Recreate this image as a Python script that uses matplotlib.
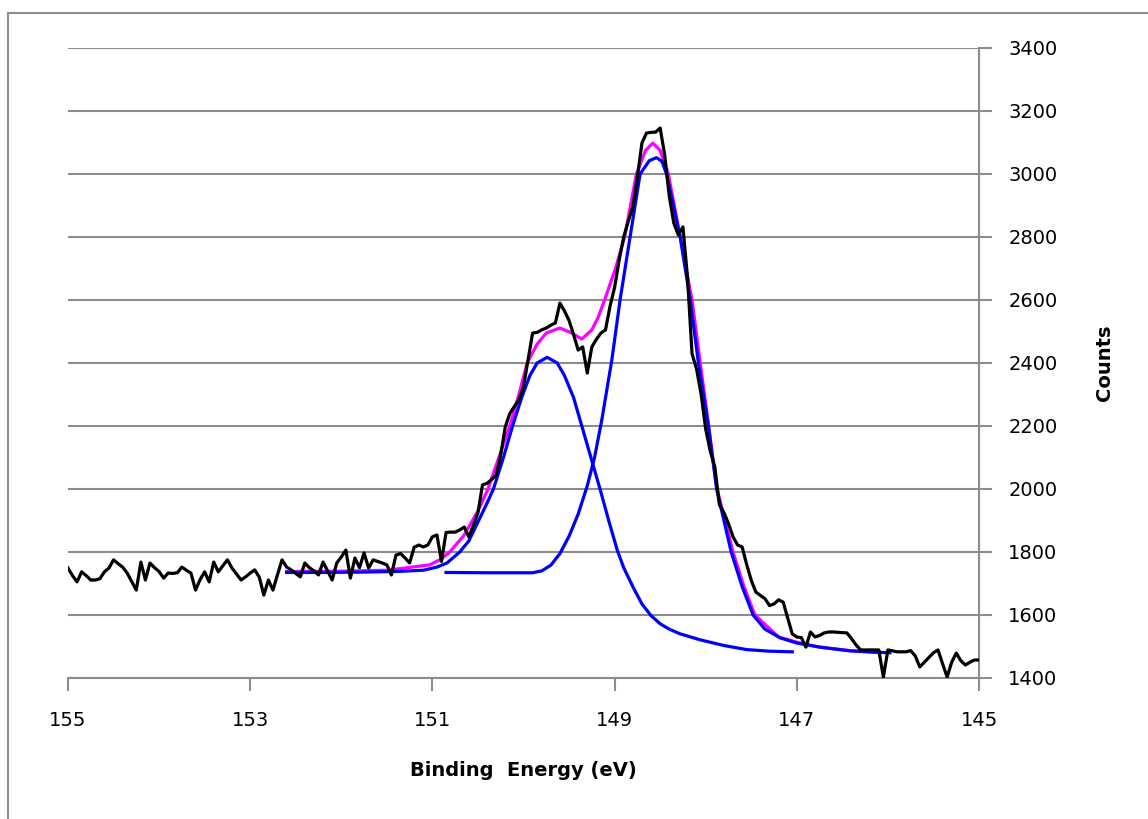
import numpy as np
import matplotlib
matplotlib.use('Agg')
import matplotlib.pyplot as plt
from matplotlib.patches import Rectangle

# measured spectrum, 155 -> 145 eV in 0.05 eV steps
energy = np.round(np.arange(155.0, 144.999, -0.05), 2)
counts = [
    1749, 1725, 1705, 1737, 1725, 1711, 1711, 1715, 1737, 1749,
    1775, 1763, 1752, 1733, 1706, 1679, 1768, 1711, 1765, 1750,
    1738, 1717, 1733, 1732, 1734, 1752, 1742, 1733, 1679, 1712,
    1737, 1705, 1768, 1737, 1756, 1775, 1749, 1730, 1711, 1721,
    1733, 1743, 1720, 1663, 1711, 1679, 1728, 1775, 1752, 1743,
    1732, 1721, 1765, 1750, 1740, 1727, 1768, 1740, 1711, 1765,
    1784, 1806, 1717, 1781, 1750, 1797, 1749, 1775, 1770, 1765,
    1759, 1727, 1790, 1795, 1781, 1765, 1815, 1822, 1816, 1822,
    1848, 1854, 1770, 1862, 1863, 1863, 1870, 1879, 1848, 1885,
    1924, 2013, 2018, 2030, 2044, 2108, 2197, 2240, 2262, 2283,
    2324, 2410, 2495, 2497, 2505, 2511, 2520, 2527, 2590, 2565,
    2535, 2490, 2441, 2451, 2368, 2451, 2475, 2495, 2505, 2580,
    2640, 2727, 2800, 2850, 2895, 2990, 3098, 3130, 3132, 3133,
    3146, 3060, 2930, 2844, 2806, 2832, 2673, 2430, 2380, 2300,
    2190, 2120, 2070, 1950, 1925, 1890, 1848, 1822, 1816, 1760,
    1710, 1673, 1662, 1652, 1630, 1635, 1648, 1641, 1590, 1540,
    1530, 1528, 1498, 1546, 1530, 1535, 1543, 1546, 1546, 1545,
    1544, 1543, 1525, 1505, 1489, 1489, 1489, 1489, 1489, 1403,
    1489, 1486, 1483, 1483, 1483, 1487, 1470, 1435, 1450, 1465,
    1480, 1489, 1445, 1403, 1450, 1479, 1455, 1441, 1450, 1457,
    1457,
]

# fitted component 1 (with its own background)
comp1_e = [152.60, 152.20, 151.80, 151.40, 151.10, 150.95, 150.84, 150.70,
           150.60, 150.50, 150.40, 150.33, 150.22, 150.12, 150.02, 149.93,
           149.85, 149.74, 149.63, 149.55, 149.45, 149.36, 149.26, 149.16,
           149.06, 148.97, 148.90, 148.80, 148.70, 148.60, 148.50, 148.40,
           148.28, 148.06, 147.80, 147.55, 147.30, 147.05]
comp1_c = [1735, 1735, 1736, 1738, 1742, 1752, 1765, 1800,
           1835, 1895, 1955, 2000, 2100, 2200, 2290, 2360,
           2400, 2418, 2400, 2360, 2290, 2200, 2100, 2000,
           1895, 1805, 1750, 1690, 1635, 1598, 1572, 1555,
           1540, 1521, 1503, 1490, 1485, 1483]

# fitted component 2
comp2_e = [150.85, 150.40, 149.90, 149.80, 149.70, 149.60, 149.50, 149.40,
           149.30, 149.22, 149.14, 149.03, 148.94, 148.83, 148.72, 148.62,
           148.54, 148.48, 148.43, 148.28, 148.17, 148.08, 147.97, 147.88,
           147.72, 147.60, 147.48, 147.35, 147.18, 147.00, 146.75, 146.42,
           145.98]
comp2_c = [1735, 1734, 1734, 1740, 1758, 1795, 1850, 1920,
           2010, 2100, 2220, 2410, 2600, 2800, 3000, 3042,
           3052, 3040, 3000, 2800, 2600, 2400, 2200, 2000,
           1800, 1690, 1600, 1555, 1527, 1511, 1498, 1486,
           1480]

# fit envelope
env_e = [152.60, 152.00, 151.50, 151.03, 150.90, 150.81, 150.66, 150.50,
         150.39, 150.27, 150.15, 150.05, 149.96, 149.85, 149.75, 149.60,
         149.47, 149.36, 149.25, 149.18, 149.11, 148.99, 148.89, 148.76,
         148.66, 148.58, 148.50, 148.41, 148.28, 148.15, 148.06, 147.97,
         147.88, 147.70, 147.58, 147.46, 147.20, 146.98, 146.75, 146.42,
         146.09]
env_c = [1738, 1739, 1742, 1759, 1778, 1800, 1850, 1930,
         2000, 2100, 2200, 2300, 2400, 2460, 2495, 2511,
         2495, 2476, 2505, 2545, 2600, 2700, 2800, 3000,
         3075, 3098, 3075, 3000, 2800, 2600, 2400, 2205,
         2005, 1800, 1690, 1600, 1530, 1512, 1498, 1487,
         1480]

xticks = [155, 153, 151, 149, 147, 145]
yticks = list(range(1400, 3401, 200))

grey = '#8c8c8c'
plt.rcParams['font.family'] = 'DejaVu Sans'

fig = plt.figure(figsize=(11.48, 8.19), dpi=100)
fig.set_facecolor('white')
ax = fig.add_axes([0.0592, 0.1722, 0.7936, 0.7692])

# chart area border
fig.add_artist(Rectangle((8 / 1148, -0.05), 1.1, 0.984 + 0.05, transform=fig.transFigure,
                         fill=False, edgecolor=grey, lw=1.5))

ax.plot(env_e, env_c, color='#ff00ff', lw=2.3, zorder=3)
ax.plot(comp1_e, comp1_c, color='#0000ff', lw=2.3, zorder=4)
ax.plot(comp2_e, comp2_c, color='#0000ff', lw=2.3, zorder=4)
ax.plot(energy, counts, color='black', lw=2.3, zorder=5)

ax.set_xlim(155, 145)
ax.set_ylim(1400, 3400)
ax.set_xticks(xticks)
ax.set_yticks(yticks)
ax.yaxis.tick_right()
ax.yaxis.set_label_position('right')

for s in ['top', 'left']:
    ax.spines[s].set_visible(False)
for s in ['bottom', 'right']:
    ax.spines[s].set_color(grey)
    ax.spines[s].set_linewidth(1.5)

ax.grid(axis='y', color=grey, lw=1.5, zorder=0)
ax.set_axisbelow(True)
ax.tick_params(axis='x', direction='out', length=9, width=1.5, color=grey, pad=15, labelsize=14)
ax.tick_params(axis='y', direction='out', length=9, width=1.5, color=grey, pad=12, labelsize=14)

ax.set_xlabel('Binding  Energy (eV)', fontsize=14, fontweight='bold', labelpad=22)
ax.set_ylabel('Counts', fontsize=14, fontweight='bold', labelpad=27, rotation=90)

fig.savefig('out.png', dpi=100, facecolor='white')
